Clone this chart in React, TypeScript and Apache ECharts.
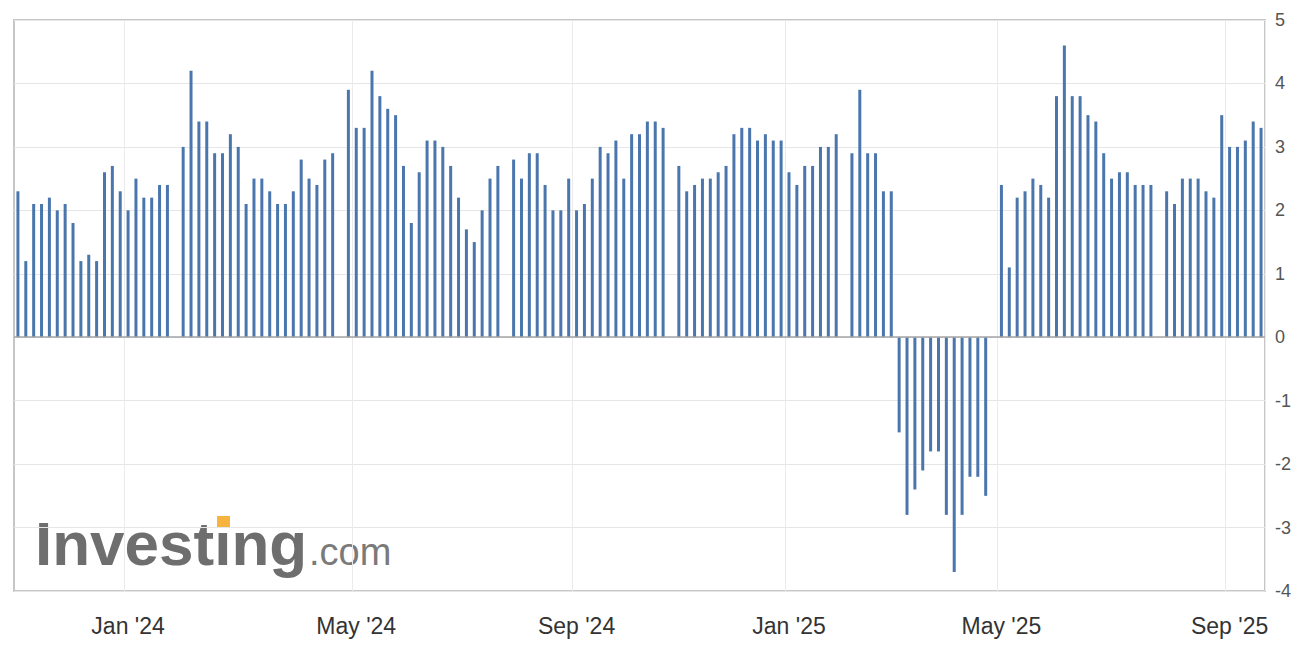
import React, { useEffect, useRef } from "react";
import * as echarts from "echarts";

// GDP nowcast estimates by quarter (one bar per update)
const q4_2023 = [2.3, 1.2, 2.1, 2.1, 2.2, 2.0, 2.1, 1.8, 1.2, 1.3, 1.2, 2.6, 2.7, 2.3, 2.0, 2.5, 2.2, 2.2, 2.4, 2.4];
const q1_2024 = [3.0, 4.2, 3.4, 3.4, 2.9, 2.9, 3.2, 3.0, 2.1, 2.5, 2.5, 2.3, 2.1, 2.1, 2.3, 2.8, 2.5, 2.4, 2.8, 2.9];
const q2_2024 = [3.9, 3.3, 3.3, 4.2, 3.8, 3.6, 3.5, 2.7, 1.8, 2.6, 3.1, 3.1, 3.0, 2.7, 2.2, 1.7, 1.5, 2.0, 2.5, 2.7];
const q3_2024 = [2.8, 2.5, 2.9, 2.9, 2.4, 2.0, 2.0, 2.5, 2.0, 2.1, 2.5, 3.0, 2.9, 3.1, 2.5, 3.2, 3.2, 3.4, 3.4, 3.3];
const q4_2024 = [2.7, 2.3, 2.4, 2.5, 2.5, 2.6, 2.7, 3.2, 3.3, 3.3, 3.1, 3.2, 3.1, 3.1, 2.6, 2.4, 2.7, 2.7, 3.0, 3.0, 3.2];
const q1_2025 = [2.9, 3.9, 2.9, 2.9, 2.3, 2.3, -1.5, -2.8, -2.4, -2.1, -1.8, -1.8, -2.8, -3.7, -2.8, -2.2, -2.2, -2.5];
const q2_2025 = [2.4, 1.1, 2.2, 2.3, 2.5, 2.4, 2.2, 3.8, 4.6, 3.8, 3.8, 3.5, 3.4, 2.9, 2.5, 2.6, 2.6, 2.4, 2.4, 2.4];
const q3_2025 = [2.3, 2.1, 2.5, 2.5, 2.5, 2.3, 2.2, 3.5, 3.0, 3.0, 3.1, 3.4, 3.3];

const quarters = [q4_2023, q1_2024, q2_2024, q3_2024, q4_2024, q1_2025, q2_2025, q3_2025];

// x tick labels and the update slot each one falls on
const monthLabels = ["Jan '24", "May '24", "Sep '24", "Jan '25", "May '25", "Sep '25"];
const monthLabelSlots = [14, 43, 71, 98, 125, 154];

const yTicks = { min: -4, max: 5, interval: 1 };

const values: (number | null)[] = [];
quarters.forEach((q, i) => {
  if (i > 0) values.push(null);
  values.push(...q);
});
const categories = values.map((_, i) => {
  const k = monthLabelSlots.indexOf(i);
  return k >= 0 ? monthLabels[k] : "u" + i;
});
const isLabelSlot = (i: number) => monthLabelSlots.indexOf(i) >= 0;

export default function App() {
  const ref = useRef<HTMLDivElement>(null);
  useEffect(() => {
    if (!ref.current) return;
    const chart = echarts.init(ref.current, undefined, { renderer: "svg" });
    chart.setOption({
      animation: false,
      backgroundColor: "#ffffff",
      grid: {
        left: 14,
        right: 47,
        top: 20,
        bottom: 59,
        show: true,
        borderColor: "#c6c6c6",
        borderWidth: 2,
        backgroundColor: "transparent",
      },
      xAxis: {
        type: "category",
        data: categories,
        boundaryGap: true,
        axisLine: { show: false, onZero: false },
        axisTick: { show: false },
        axisLabel: {
          interval: (i: number) => isLabelSlot(i),
          color: "#333333",
          fontSize: 23,
          fontFamily: "Liberation Sans, Arial, sans-serif",
          margin: 23,
        },
        splitLine: {
          show: true,
          interval: (i: number) => isLabelSlot(i),
          lineStyle: { color: "#ebebeb", width: 1 },
        },
      },
      yAxis: {
        type: "value",
        position: "right",
        min: yTicks.min,
        max: yTicks.max,
        interval: yTicks.interval,
        axisLine: { show: false },
        axisTick: { show: false },
        axisLabel: {
          color: "#555555",
          fontSize: 18,
          fontFamily: "Liberation Sans, Arial, sans-serif",
          margin: 10,
        },
        splitLine: { lineStyle: { color: "#e6e6e6", width: 1 } },
      },
      series: [
        {
          type: "bar",
          data: values,
          barWidth: 3,
          itemStyle: { color: "#4a76ad" },
          markLine: {
            silent: true,
            symbol: ["none", "none"],
            label: { show: false },
            lineStyle: { color: "#a4a4a4", width: 1.5, type: "solid" },
            data: [{ yAxis: 0 }],
          },
        },
      ],
      graphic: [
        {
          type: "text",
          x: 35,
          y: 543,
          silent: true,
          style: {
            text: "Investing",
            fontSize: 62,
            fontWeight: "bold",
            fontFamily: "Liberation Sans, Arial, sans-serif",
            fill: "#6e6e6e",
            verticalAlign: "middle",
            align: "left",
          },
        },
        {
          type: "rect",
          silent: true,
          shape: { x: 217, y: 516, width: 13, height: 12 },
          style: { fill: "#f6b33f" },
        },
        {
          type: "text",
          x: 309,
          y: 552,
          silent: true,
          style: {
            text: ".com",
            fontSize: 38,
            fontFamily: "Liberation Sans, Arial, sans-serif",
            fill: "#7a7a7a",
            verticalAlign: "middle",
            align: "left",
          },
        },
      ],
    });
    return () => chart.dispose();
  }, []);
  return (
    <div
      ref={ref}
      style={{ position: "absolute", left: 0, top: 0, width: 1312, height: 650, background: "#fff" }}
    />
  );
}
